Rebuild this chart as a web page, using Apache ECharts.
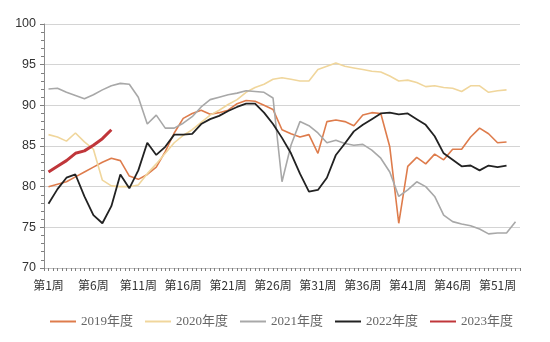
<!DOCTYPE html>
<html>
<head>
<meta charset="utf-8">
<script src="https://cdn.jsdelivr.net/npm/echarts@6/dist/echarts.min.js"></script>
<style>
  html, body { margin: 0; padding: 0; background: #fff; }
  #chart { width: 550px; height: 342px; }
</style>
</head>
<body>
<div id="chart"></div>
<script>
// Weekly categories (weeks 1-53)
const weeks = [
  '第1周','第2周','第3周','第4周','第5周','第6周','第7周','第8周','第9周','第10周',
  '第11周','第12周','第13周','第14周','第15周','第16周','第17周','第18周','第19周','第20周',
  '第21周','第22周','第23周','第24周','第25周','第26周','第27周','第28周','第29周','第30周',
  '第31周','第32周','第33周','第34周','第35周','第36周','第37周','第38周','第39周','第40周',
  '第41周','第42周','第43周','第44周','第45周','第46周','第47周','第48周','第49周','第50周',
  '第51周','第52周','第53周'
];

const seriesNames = ['2019年度', '2020年度', '2021年度', '2022年度', '2023年度'];

const y2019 = [
  80.0, 80.3, 80.6, 81.2, 81.8, 82.4, 83.0, 83.5, 83.2, 81.3,
  80.9, 81.5, 82.4, 84.3, 86.6, 88.4, 89.0, 89.4, 88.9, 89.1,
  89.4, 90.2, 90.6, 90.5, 90.0, 89.5, 87.0, 86.5, 86.1, 86.4,
  84.1, 88.0, 88.2, 88.0, 87.5, 88.8, 89.1, 89.0, 84.9, 75.5,
  82.5, 83.6, 82.8, 84.0, 83.3, 84.6, 84.6, 86.1, 87.2, 86.5,
  85.4, 85.5
];

const y2020 = [
  86.4, 86.1, 85.6, 86.6, 85.5, 84.6, 80.8, 80.1, 80.0, 80.0,
  80.2, 81.6, 82.8, 84.1, 85.4, 86.3, 87.0, 87.9, 88.8, 89.4,
  90.1, 90.7, 91.6, 92.2, 92.6, 93.2, 93.4, 93.2, 93.0, 93.0,
  94.4, 94.8, 95.2, 94.8, 94.6, 94.4, 94.2, 94.1, 93.6, 93.0,
  93.1, 92.8, 92.3, 92.4, 92.2, 92.1, 91.7, 92.4, 92.4, 91.6,
  91.8, 91.9
];

const y2021 = [
  92.0, 92.1, 91.6, 91.2, 90.8, 91.3, 91.9, 92.4, 92.7, 92.6,
  91.0, 87.7, 88.8, 87.2, 87.2, 87.8, 88.6, 89.8, 90.7, 91.0,
  91.3, 91.5, 91.8, 91.7, 91.6, 90.9, 80.6, 85.1, 88.0, 87.5,
  86.6, 85.4, 85.7, 85.3, 85.1, 85.2, 84.5, 83.5, 81.8, 78.8,
  79.6, 80.6, 80.0, 78.8, 76.5, 75.7, 75.4, 75.2, 74.8, 74.2,
  74.3, 74.3, 75.7
];

const y2022 = [
  77.9, 79.7, 81.1, 81.5, 78.8, 76.5, 75.5, 77.6, 81.5, 79.8,
  82.0, 85.4, 83.9, 84.9, 86.4, 86.4, 86.5, 87.7, 88.3, 88.7,
  89.3, 89.8, 90.2, 90.2, 89.1, 87.7, 86.0, 84.1, 81.6, 79.4,
  79.6, 81.1, 83.9, 85.3, 86.8, 87.6, 88.3, 89.0, 89.1, 88.9,
  89.0, 88.3, 87.6, 86.2, 84.1, 83.3, 82.5, 82.6, 82.0, 82.6,
  82.4, 82.6
];

const y2023 = [81.8, 82.5, 83.2, 84.1, 84.4, 85.1, 85.9, 87.0];

// Y-axis scale
const yMin = 70;
const yMax = 100;
const yStep = 5;

// Half-week tick marks along the bottom axis
const halfWeekTicks = new Array(weeks.length * 2).fill('');

const colors = ['#DE7C4C', '#F0D69C', '#A8A8A8', '#222222', '#C0363A'];
const widths = [1.6, 1.6, 1.6, 1.8, 3];
const dataSets = [y2019, y2020, y2021, y2022, y2023];

const chart = echarts.init(document.getElementById('chart'), null, { renderer: 'canvas' });

chart.setOption({
  animation: false,
  backgroundColor: '#ffffff',
  color: colors,
  grid: { left: 44, right: 30, top: 24, bottom: 74, containLabel: false },
  legend: {
    data: seriesNames,
    left: 45,
    top: 310,
    icon: 'rect',
    itemWidth: 26,
    itemHeight: 2,
    itemGap: 12,
    textStyle: {
      fontFamily: '"Liberation Serif", "Noto Sans CJK SC", serif',
      fontSize: 13,
      color: '#666666'
    }
  },
  xAxis: [
    {
      type: 'category',
      data: weeks,
      boundaryGap: true,
      axisLine: { show: true, lineStyle: { color: '#BFBFBF', width: 1 } },
      axisTick: { show: false },
      axisLabel: {
        interval: 4,
        margin: 11,
        fontSize: 12,
        color: '#333333',
        fontFamily: '"Noto Sans CJK SC", "Liberation Sans", sans-serif'
      },
      splitLine: { show: false }
    },
    {
      type: 'category',
      data: halfWeekTicks,
      boundaryGap: true,
      position: 'bottom',
      axisLine: { show: false },
      axisTick: { show: true, interval: 0, length: 3, lineStyle: { color: '#7F7F7F' } },
      axisLabel: { show: false },
      splitLine: { show: false }
    }
  ],
  yAxis: {
    type: 'value',
    min: yMin,
    max: yMax,
    interval: yStep,
    axisLine: { show: true, lineStyle: { color: '#8C8C8C', width: 1 } },
    axisTick: { show: true, length: 4, lineStyle: { color: '#7F7F7F' } },
    minorTick: { show: true, splitNumber: 5, length: 3, lineStyle: { color: '#7F7F7F' } },
    axisLabel: {
      margin: 8,
      fontSize: 12.5,
      color: '#333333',
      fontFamily: '"Liberation Sans", Arial, sans-serif'
    },
    splitLine: { show: true, lineStyle: { color: '#D4D4D4', width: 1 } },
    minorSplitLine: { show: false }
  },
  series: dataSets.map((d, i) => ({
    name: seriesNames[i],
    type: 'line',
    xAxisIndex: 0,
    data: d,
    symbol: 'none',
    showSymbol: false,
    smooth: false,
    lineStyle: { color: colors[i], width: widths[i] },
    itemStyle: { color: colors[i] },
    z: i === 4 ? 5 : 2 + i * 0.1
  }))
});
</script>
</body>
</html>
